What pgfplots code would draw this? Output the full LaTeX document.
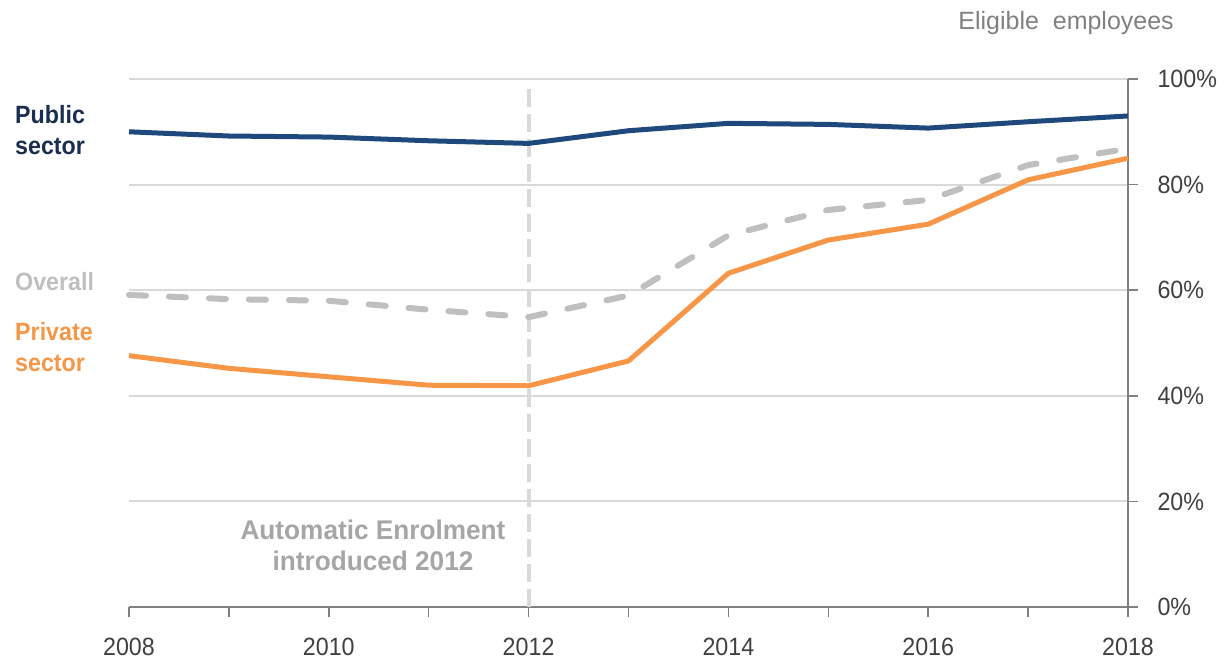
\documentclass[border=0pt]{standalone}
\usepackage{fontspec}
\setmainfont{Liberation Sans}
\newfontfamily\tickfont{Liberation Sans}[FakeStretch=0.93]
\newfontfamily\labfont{Liberation Sans}[FakeStretch=0.93]
\newfontfamily\notefont{Liberation Sans}[FakeStretch=0.97]
\usepackage{pgfplots}
\pgfplotsset{compat=1.18}
\definecolor{pubc}{HTML}{1F497D}
\definecolor{publab}{HTML}{1A2E4F}
\definecolor{privc}{HTML}{F79646}
\definecolor{allc}{HTML}{BFBFBF}
\definecolor{gridc}{HTML}{D9D9D9}
\definecolor{axc}{HTML}{808080}
\definecolor{tickc}{HTML}{404040}
\definecolor{notec}{HTML}{A6A6A6}
\begin{document}
\begin{tikzpicture}
\useasboundingbox (-129pt,-53pt) rectangle (1089pt,607pt);
\begin{axis}[
  at={(0pt,0pt)}, anchor=south west,
  scale only axis, width=999pt, height=528pt,
  xmin=2008, xmax=2018, ymin=0, ymax=100,
  axis x line*=bottom, axis y line*=right,
  axis line style={axc, line width=1.5pt},
  xtick={2008,2010,...,2018},
  minor xtick={2009,2011,...,2017},
  ytick={0,20,...,100},
  yticklabel={\pgfmathprintnumber{\tick}\%},
  /pgf/number format/1000 sep={},
  /pgf/number format/assume math mode=true,
  tick align=outside,
  major tick length=10pt, minor tick length=10pt,
  tick style={axc, line width=1.5pt},
  ymajorgrids,
  grid style={gridc, line width=2pt},
  tick label style={font=\tickfont\fontsize{25}{30}\selectfont, text=tickc},
  xticklabel style={yshift=-18pt},
  yticklabel style={anchor=west, xshift=16pt},
  clip=false,
]
\draw[gridc, line width=4pt, dash pattern=on 18pt off 7pt] (axis cs:2012,0) -- (axis cs:2012,98.5);
\addplot[allc, line width=6pt, line cap=round, dash pattern=on 17pt off 23pt] coordinates {
(2008,59.1) (2009,58.3) (2010,58.0) (2011,56.3) (2012,54.9) (2013,59.0)
(2014,70.4) (2015,75.2) (2016,77.1) (2017,83.7) (2018,86.8)};
\addplot[privc, line width=5pt] coordinates {
(2008,47.6) (2009,45.2) (2010,43.6) (2011,42.0) (2012,41.9) (2013,46.6)
(2014,63.2) (2015,69.5) (2016,72.5) (2017,80.9) (2018,85.0)};
\addplot[pubc, line width=5pt] coordinates {
(2008,90.0) (2009,89.2) (2010,89.0) (2011,88.3) (2012,87.8) (2013,90.2)
(2014,91.6) (2015,91.4) (2016,90.7) (2017,91.9) (2018,93.0)};
\end{axis}
\begin{scope}[every node/.style={inner sep=0pt}]
\node[anchor=base west, text=publab, font=\labfont\bfseries\fontsize{25}{30}\selectfont] at (-114pt,483pt) {Public};
\node[anchor=base west, text=publab, font=\labfont\bfseries\fontsize{25}{30}\selectfont] at (-114pt,452pt) {sector};
\node[anchor=base west, text=allc, font=\labfont\bfseries\fontsize{25}{30}\selectfont] at (-114pt,316pt) {Overall};
\node[anchor=base west, text=privc, font=\labfont\bfseries\fontsize{25}{30}\selectfont] at (-114pt,266pt) {Private};
\node[anchor=base west, text=privc, font=\labfont\bfseries\fontsize{25}{30}\selectfont] at (-114pt,235pt) {sector};
\node[anchor=base, text=notec, font=\notefont\bfseries\fontsize{27}{30}\selectfont] at (244pt,67pt) {Automatic Enrolment};
\node[anchor=base, text=notec, font=\notefont\bfseries\fontsize{27}{30}\selectfont] at (244pt,36pt) {introduced 2012};
\node[anchor=base east, text=axc, font=\fontsize{25}{30}\selectfont] at (1045pt,577pt) {Eligible~~employees};
\end{scope}
\end{tikzpicture}
\end{document}
